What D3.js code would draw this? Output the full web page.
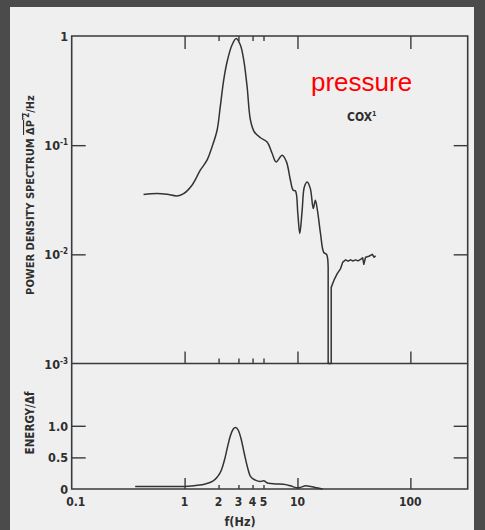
<!DOCTYPE html>
<html lang="en">
  <head>
    <meta charset="utf-8">
    <title>Pressure spectrum</title>
    <script src="https://d3js.org/d3.v7.min.js"></script>
    <style media="screen">
      body { margin: 0; background: #4b4b4b; }
      .lbl {
        font-family: "Liberation Sans Narrow", "DejaVu Sans Condensed", sans-serif;
        font-stretch: condensed;
        font-weight: bold;
        fill: #2e2e2e;
      }
      .frame { fill: none; stroke: #3a3a3a; stroke-width: 1.6px; }
      .tick line { stroke: #3a3a3a; stroke-width: 1.4px; }
      .curve { fill: none; stroke: #333; stroke-width: 1.5px; stroke-linejoin: round; }
    </style>
  </head>
  <body>
    <svg id="chart" width="485" height="530" xmlns="http://www.w3.org/2000/svg"></svg>
    <script>
      // power density spectrum (upper panel)
      const freqP = [0.433, 0.569, 0.698, 0.856, 0.98, 1.163, 1.378, 1.58, 1.75, 1.94, 2.07, 2.22, 2.38, 2.63, 2.87,
        3.12, 3.34, 3.58, 3.83, 4.15, 4.70, 5.38, 5.97, 6.47, 7.32, 7.99, 8.66, 9.16, 9.60, 10.07, 10.48,
        11.0, 11.5, 12.2, 13.0, 13.8, 14.4, 15.1, 16.0, 17.1, 18.1, 18.7, 18.7, 19.9, 19.9, 21.0, 22.5,
        24.1, 25.2, 26.7, 28.1, 29.5, 31.1, 32.7, 34.4, 36.2, 37.8, 38.7, 40.1, 42.9, 46.0, 47.8, 49.2];
      const psd = [0.0353, 0.036, 0.0355, 0.0343, 0.036, 0.043, 0.059, 0.0728, 0.0964, 0.137, 0.225, 0.395, 0.581, 0.827, 0.95,
        0.827, 0.603, 0.343, 0.170, 0.132, 0.117, 0.107, 0.0839, 0.0703, 0.081, 0.0703, 0.0477, 0.0387, 0.0381, 0.0236, 0.0155,
        0.0253, 0.0414, 0.046, 0.040, 0.0263, 0.0313, 0.0244, 0.0155, 0.0104, 0.0100, 0.00764, 0.001, 0.001, 0.00498, 0.00577, 0.00665,
        0.0074, 0.0085, 0.0089, 0.00866, 0.0089, 0.0087, 0.0089, 0.0087, 0.0090, 0.0093, 0.0081, 0.0094, 0.0096, 0.0100, 0.0094, 0.0097];
      // index where the trace drops to the floor; smooth before, straight pen strokes after
      const dropAt = 41;

      // energy / delta f (lower panel)
      const freqE = [0.365, 0.61, 0.99, 1.24, 1.53, 1.76, 1.95, 2.12, 2.25, 2.39, 2.54, 2.70, 2.82, 2.99, 3.18, 3.39, 3.60,
        3.83, 4.24, 4.70, 4.99, 5.52, 6.37, 7.51, 8.66, 9.80, 10.6, 11.8, 13.0, 14.8, 16.7];
      const energy = [0.04, 0.04, 0.04, 0.055, 0.08, 0.12, 0.19, 0.30, 0.45, 0.65, 0.84, 0.95, 0.975, 0.93, 0.78, 0.55, 0.35,
        0.20, 0.14, 0.12, 0.13, 0.09, 0.08, 0.075, 0.05, 0.02, 0.025, 0.05, 0.04, 0.02, 0.0];

      const majorF = [1, 10, 100];
      const minorF = [2, 3, 4, 5];
      const fLabels = ['0.1', '1', '2', '3', '4', '5', '10', '100'];
      const decadeTicks = [0.1, 0.01];
      const decadeLabels = [[1, '1', ''], [0.1, '10', '-1'], [0.01, '10', '-2'], [0.001, '10', '-3']];
      const energyTicks = [0.5, 1.0];
      const energyLabels = ['0', '0.5', '1.0'];

      const svg = d3.select('#chart');

      // scanned page
      svg.append('rect').attr('width', 485).attr('height', 530).attr('fill', '#4b4b4b');
      svg.append('rect').attr('x', 10).attr('y', 7).attr('width', 464).attr('height', 523).attr('fill', '#efefef');

      const x = d3.scaleLog().domain([0.1, 322]).range([71.7, 467.7]);
      const yTop = d3.scaleLog().domain([0.001, 1]).range([363.5, 36]);
      const yBot = d3.scaleLinear().domain([0, 2]).range([489, 362.6]);

      // frames
      svg.append('path').attr('class', 'frame')
        .attr('d', `M${x(0.1)},${yTop(0.001)}V${yTop(1)}H${x(322)}V${yTop(0.001)}Z`);
      svg.append('path').attr('class', 'frame')
        .attr('d', `M${x(0.1)},${yTop(0.001)}V${yBot(0)}H${x(322)}V${yTop(0.001)}`);

      function fTicks(axisFn, y, vals, len) {
        svg.append('g').attr('transform', `translate(0,${y})`)
          .call(axisFn(x).tickValues(vals).tickSize(len).tickFormat(''))
          .call(g => g.select('.domain').remove());
      }
      // top edge ticks point down, the others point up
      fTicks(d3.axisBottom, yTop(1), majorF, 13);
      fTicks(d3.axisBottom, yTop(1), minorF, 5);
      fTicks(d3.axisTop, yTop(0.001), majorF, 12);
      fTicks(d3.axisTop, yTop(0.001), minorF, 5);
      fTicks(d3.axisTop, yBot(0), majorF, 11);
      fTicks(d3.axisTop, yBot(0), minorF, 4);

      function yTicks(scale, vals) {
        svg.append('g').attr('transform', `translate(${x(0.1)},0)`)
          .call(d3.axisRight(scale).tickValues(vals).tickSize(14).tickFormat(''))
          .call(g => g.select('.domain').remove());
        svg.append('g').attr('transform', `translate(${x(322)},0)`)
          .call(d3.axisLeft(scale).tickValues(vals).tickSize(14).tickFormat(''))
          .call(g => g.select('.domain').remove());
      }
      yTicks(yTop, decadeTicks);
      yTicks(yBot, energyTicks);

      // tick labels
      const dl = svg.append('g').selectAll('text').data(decadeLabels).join('text')
        .attr('class', 'lbl').attr('font-size', 12.5)
        .attr('text-anchor', 'end')
        .attr('x', 68).attr('y', d => yTop(d[0]) + 5);
      dl.append('tspan').text(d => d[1]);
      dl.append('tspan').attr('font-size', 8).attr('dy', -5).text(d => d[2]);

      svg.append('g').selectAll('text').data(energyLabels).join('text')
        .attr('class', 'lbl').attr('font-size', 12.5)
        .attr('text-anchor', 'end')
        .attr('x', 68).attr('y', d => yBot(+d) + 5)
        .text(d => d);

      svg.append('g').selectAll('text').data(fLabels).join('text')
        .attr('class', 'lbl').attr('font-size', 12)
        .attr('text-anchor', 'middle')
        .attr('x', d => x(+d) + (d === '0.1' ? 4 : 0)).attr('y', 506)
        .text(d => d);

      // axis titles
      const t1 = svg.append('text').attr('class', 'lbl').attr('font-size', 11)
        .attr('text-anchor', 'middle')
        .attr('transform', 'translate(34,195) rotate(-90)');
      t1.append('tspan').text('POWER DENSITY SPECTRUM ');
      const ov = t1.append('tspan').style('text-decoration', 'overline');
      ov.append('tspan').text('ΔP');
      ov.append('tspan').attr('font-size', 8).attr('dy', -5).text("'2");
      t1.append('tspan').attr('dy', 5).text('/Hz');

      svg.append('text').attr('class', 'lbl').attr('font-size', 11.5)
        .attr('text-anchor', 'middle')
        .attr('transform', 'translate(34,423) rotate(-90)')
        .text('ENERGY/Δf');

      svg.append('text').attr('class', 'lbl').attr('font-size', 12.5)
        .attr('text-anchor', 'middle')
        .attr('x', 240).attr('y', 526).text('f(Hz)');

      const cox = svg.append('text').attr('class', 'lbl').attr('font-size', 12)
        .attr('x', 347).attr('y', 121);
      cox.append('tspan').text('COX');
      cox.append('tspan').attr('font-size', 7).attr('dy', -5).text('1');

      svg.append('text')
        .attr('x', 311).attr('y', 91)
        .attr('font-family', 'Liberation Sans, Arial, sans-serif')
        .attr('font-size', 26).attr('fill', '#ff0000')
        .text('pressure');

      // curves
      const upper = freqP.map((f, i) => ({f: f, v: psd[i]}));
      const lower = freqE.map((f, i) => ({f: f, v: energy[i]}));

      const smooth = d3.line().curve(d3.curveCatmullRom.alpha(0.5)).x(d => x(d.f)).y(d => yTop(d.v));
      const straight = d3.line().x(d => x(d.f)).y(d => yTop(d.v));
      svg.append('path').datum(upper.slice(0, dropAt + 1)).attr('class', 'curve').attr('d', smooth);
      svg.append('path').datum(upper.slice(dropAt)).attr('class', 'curve').attr('d', straight);

      svg.append('path').datum(lower).attr('class', 'curve')
        .attr('d', d3.line().curve(d3.curveMonotoneX).x(d => x(d.f)).y(d => yBot(d.v)));
    </script>
  </body>
</html>
